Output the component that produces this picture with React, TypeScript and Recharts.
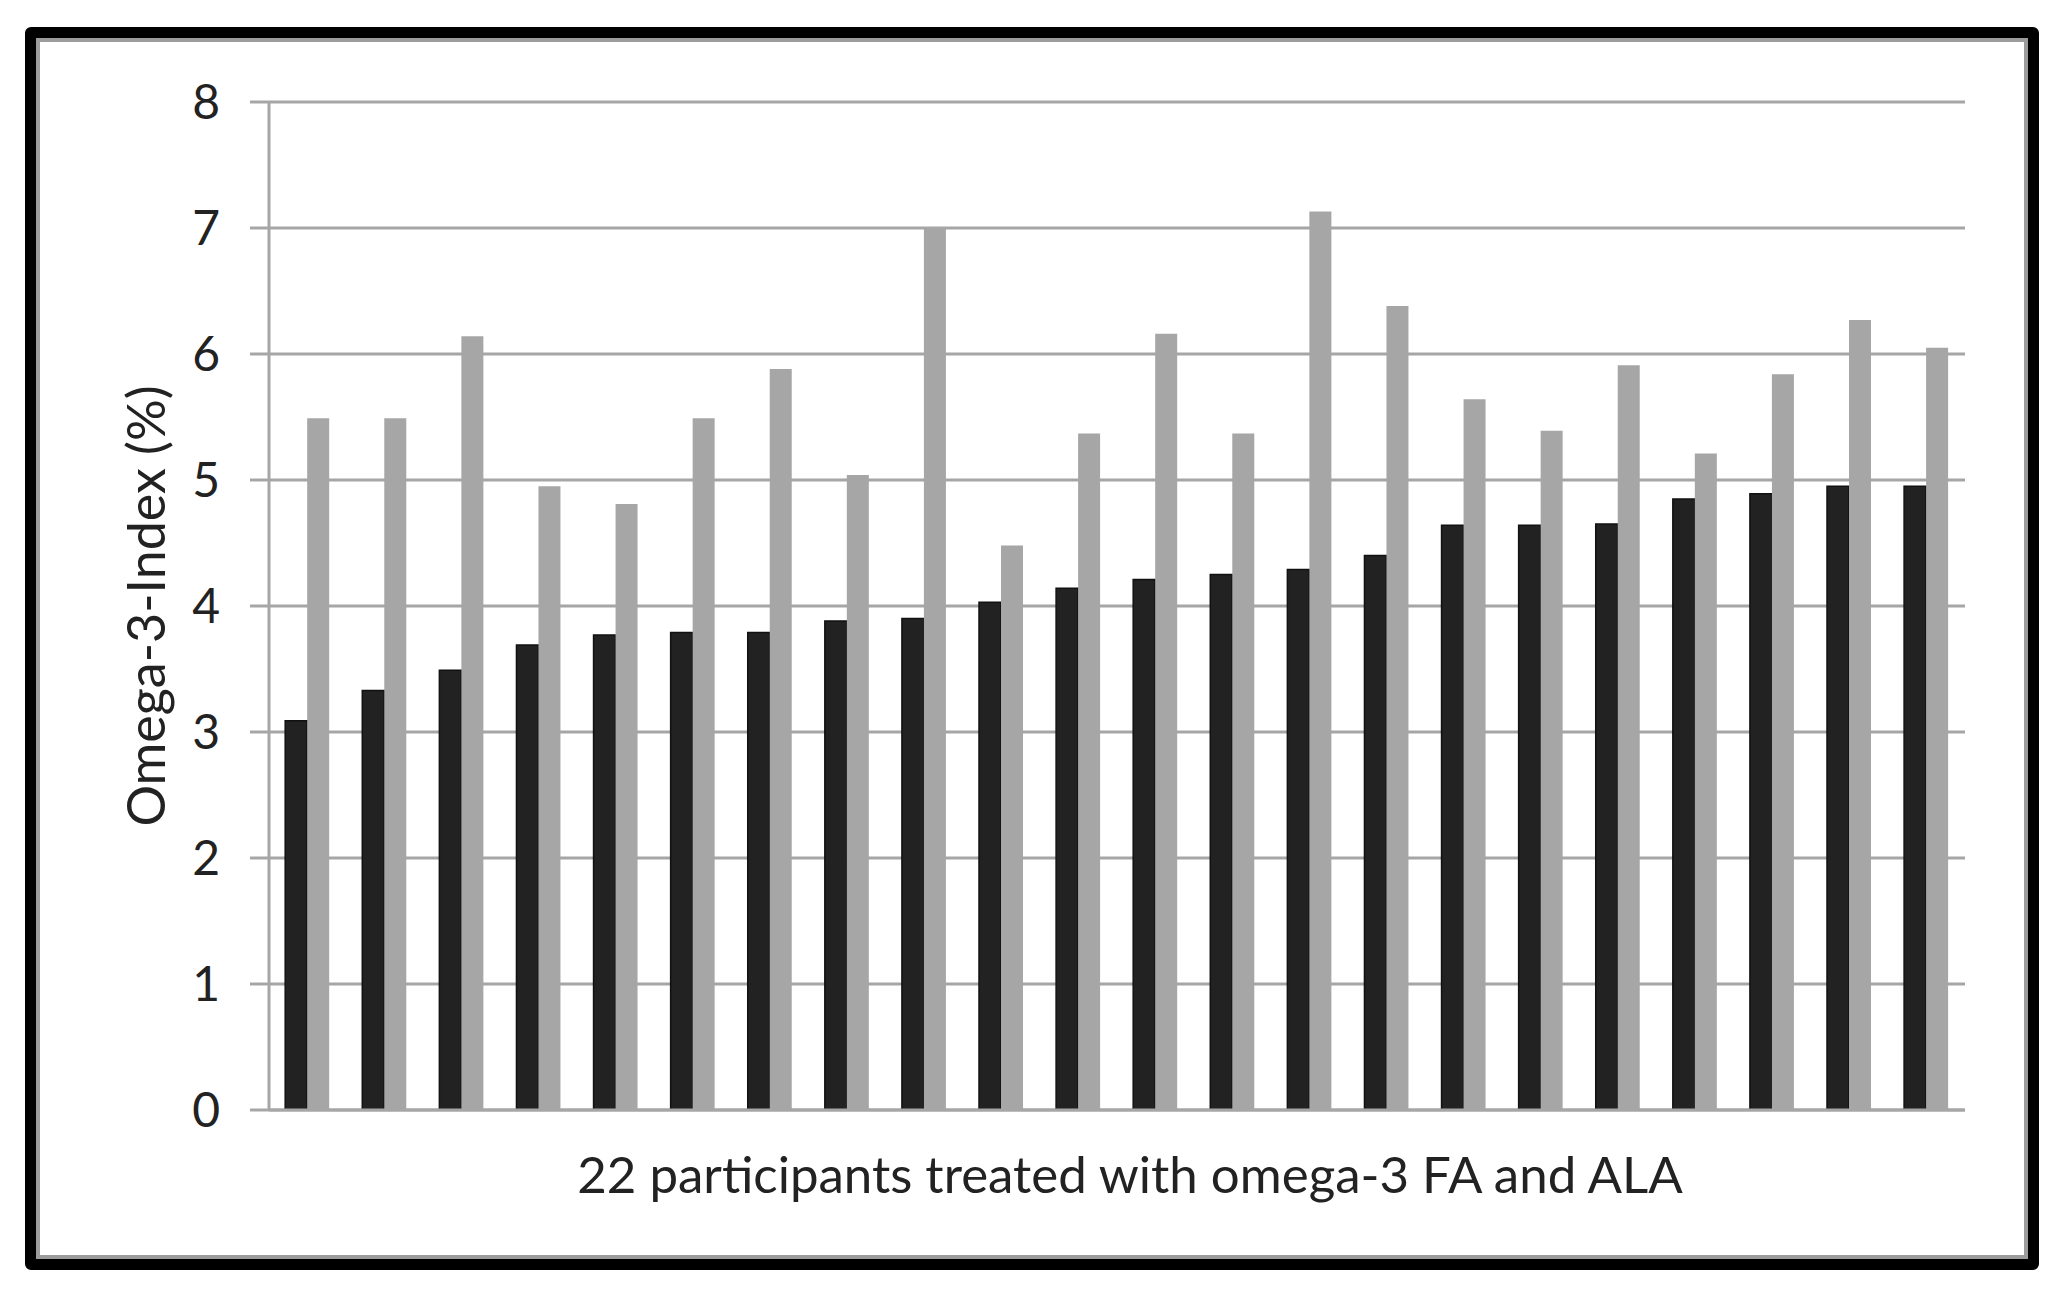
import React from "react";
import {
  BarChart,
  Bar,
  XAxis,
  YAxis,
  CartesianGrid,
  Label,
} from "recharts";

// Omega-3-Index per participant, before and after treatment
const participants = Array.from({ length: 22 }, (_, i) => `P${i + 1}`);
const beforeValues = [
  3.09, 3.33, 3.49, 3.69, 3.77, 3.79, 3.79, 3.88, 3.9, 4.03, 4.14, 4.21, 4.25,
  4.29, 4.4, 4.64, 4.64, 4.65, 4.85, 4.89, 4.95, 4.95,
];
const afterValues = [
  5.49, 5.49, 6.14, 4.95, 4.81, 5.49, 5.88, 5.04, 7.0, 4.48, 5.37, 6.16, 5.37,
  7.13, 6.38, 5.64, 5.39, 5.91, 5.21, 5.84, 6.27, 6.05,
];
const yTicks = [0, 1, 2, 3, 4, 5, 6, 7, 8];

const data = participants.map((id, i) => ({
  id,
  before: beforeValues[i],
  after: afterValues[i],
}));

const FONT = "Lato, 'Open Sans', sans-serif";
const GRID = "#a6a6a6";

export default function App() {
  return (
    <div
      style={{
        position: "absolute",
        left: 0,
        top: 0,
        width: 2054,
        height: 1290,
        background: "#fff",
        overflow: "hidden",
      }}
    >
      <div
        style={{
          position: "absolute",
          left: 25,
          top: 27,
          width: 2014,
          height: 1243,
          boxSizing: "border-box",
          border: "11px solid #000",
          borderRadius: 6,
          boxShadow: "inset 0 0 0 4px #9c9c9c",
        }}
      />
      <div style={{ position: "absolute", left: 0, top: 0 }}>
        <BarChart
          width={2054}
          height={1290}
          data={data}
          margin={{ top: 102, right: 89, bottom: 0, left: 0 }}
          barCategoryGap="21%"
          barGap={0}
        >
          <CartesianGrid vertical={false} stroke={GRID} strokeWidth={3} />
          <XAxis
            dataKey="id"
            height={180}
            tick={false}
            tickLine={false}
            axisLine={{ stroke: GRID, strokeWidth: 3 }}
          >
            <Label
              value="22 participants treated with omega-3 FA and ALA"
              position="insideTop"
              offset={47}
              dx={13}
              fill="#222"
              fontSize={51}
              fontFamily={FONT}
            />
          </XAxis>
          <YAxis
            width={269}
            domain={[0, 8]}
            ticks={yTicks}
            interval={0}
            tickSize={19}
            tickMargin={30}
            tick={{ fill: "#222", fontSize: 48, fontFamily: FONT }}
            tickLine={{ stroke: GRID, strokeWidth: 3 }}
            axisLine={{ stroke: GRID, strokeWidth: 3 }}
          >
            <Label
              value="Omega-3-Index (%)"
              angle={-90}
              position="center"
              dx={12}
              fill="#222"
              fontSize={52}
              fontFamily={FONT}
            />
          </YAxis>
          <Bar
            dataKey="before"
            fill="#222222"
            stroke="#111"
            strokeWidth={1.5}
            isAnimationActive={false}
          />
          <Bar dataKey="after" fill="#a6a6a6" isAnimationActive={false} />
        </BarChart>
      </div>
    </div>
  );
}
